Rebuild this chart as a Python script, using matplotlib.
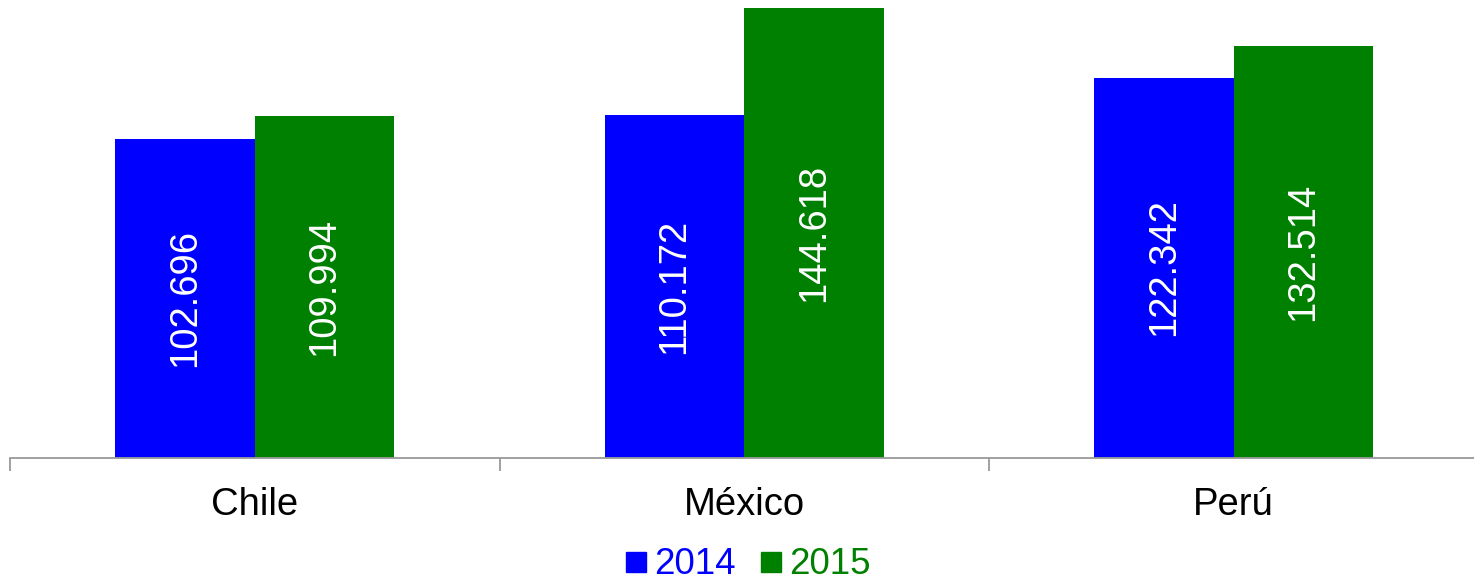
import numpy as np
import matplotlib.pyplot as plt
from matplotlib.lines import Line2D

plt.rcParams["font.family"] = ["Liberation Sans", "DejaVu Sans"]

countries = ["Chile", "México", "Perú"]
years = ["2014", "2015"]
values_2014 = [102.696, 110.172, 122.342]
values_2015 = [109.994, 144.618, 132.514]
labels_2014 = ["102.696", "110.172", "122.342"]
labels_2015 = ["109.994", "144.618", "132.514"]
colors = ["#0000FF", "#008000"]

fig = plt.figure(figsize=(14.74, 5.81), dpi=100)
ax = fig.add_axes([10 / 1474, 123.5 / 581, 1468.5 / 1474, 450.5 / 581])

x = np.arange(len(countries))
w = 0.285
b1 = ax.bar(x - w / 2, values_2014, w, color=colors[0])
b2 = ax.bar(x + w / 2, values_2015, w, color=colors[1])

for bars, labs in [(b1, labels_2014), (b2, labels_2015)]:
    for bar, lab in zip(bars, labs):
        ax.text(bar.get_x() + bar.get_width() / 2, bar.get_height() / 2, lab,
                rotation=90, ha="center", va="center", color="white", fontsize=27.5)

ax.set_xlim(-0.5, 2.5)
ax.set_ylim(0, 144.618 * 1.003)
ax.set_yticks([])
for s in ["top", "right", "left"]:
    ax.spines[s].set_visible(False)
ax.spines["bottom"].set_color("#999999")
ax.spines["bottom"].set_linewidth(1.3)

ax.set_xticks([-0.5, 0.5, 1.5, 2.5])
ax.set_xticklabels([])
ax.set_xticks(x, minor=True)
ax.set_xticklabels(countries, minor=True, fontsize=27.5)
ax.tick_params(axis="x", which="major", length=9, width=1.3, color="#999999")
ax.tick_params(axis="x", which="minor", length=0, pad=21)

handles = [Line2D([], [], marker="s", linestyle="", markersize=14,
                  color=c) for c in colors]
leg = fig.legend(handles, years, loc="center",
                 bbox_to_anchor=(0.5 + 7 / 1474, 16 / 581),
                 ncol=2, frameon=False, fontsize=26.5, handletextpad=0.0,
                 columnspacing=0.45, handlelength=1.0, borderpad=0.1)
for t, c in zip(leg.get_texts(), colors):
    t.set_color(c)

fig.savefig("out.png", dpi=100)
